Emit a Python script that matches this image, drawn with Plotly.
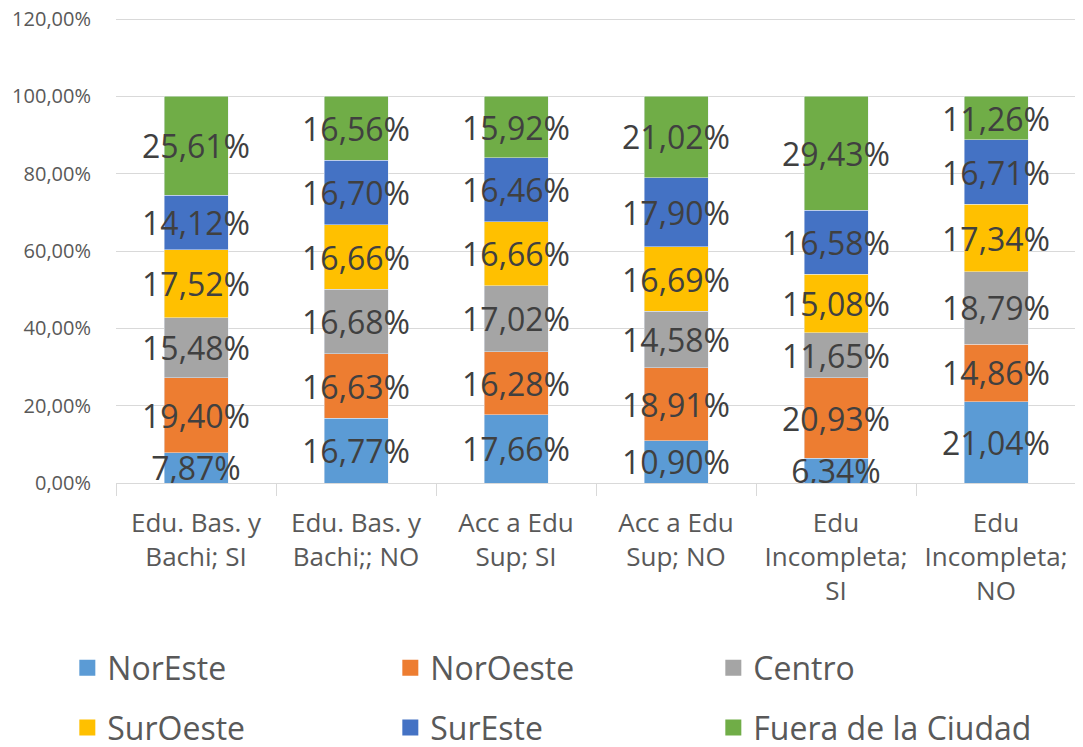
import plotly.graph_objects as go

categories = ["Edu. Bas. y<br>Bachi; SI", "Edu. Bas. y<br>Bachi;; NO", "Acc a Edu<br>Sup; SI",
              "Acc a Edu<br>Sup; NO", "Edu<br>Incompleta;<br>SI", "Edu<br>Incompleta;<br>NO"]
series_names = ["NorEste", "NorOeste", "Centro", "SurOeste", "SurEste", "Fuera de la Ciudad"]
noreste = [0.0787, 0.1677, 0.1766, 0.1090, 0.0634, 0.2104]
noroeste = [0.1940, 0.1663, 0.1628, 0.1891, 0.2093, 0.1486]
centro = [0.1548, 0.1668, 0.1702, 0.1458, 0.1165, 0.1879]
suroeste = [0.1752, 0.1666, 0.1666, 0.1669, 0.1508, 0.1734]
sureste = [0.1412, 0.1670, 0.1646, 0.1790, 0.1658, 0.1671]
fuera = [0.2561, 0.1656, 0.1592, 0.2102, 0.2943, 0.1126]
series_values = [noreste, noroeste, centro, suroeste, sureste, fuera]
colors = ["#5B9BD5", "#ED7D31", "#A5A5A5", "#FFC000", "#4472C4", "#70AD47"]

FONT = "Open Sans"
fig = go.Figure()
for i, (name, vals, col) in enumerate(zip(series_names, series_values, colors)):
    fig.add_trace(go.Bar(
        name=name, x=categories, y=vals, marker_color=col,
        texttemplate="%{y:.2%}", textposition="inside", insidetextanchor="middle",
        textangle=0, constraintext="none",
        textfont=dict(family=FONT, size=32, color="#404040"),
        showlegend=False, hoverinfo="skip",
    ))
# legend entries with larger square swatches
for i, (name, col) in enumerate(zip(series_names, colors)):
    fig.add_trace(go.Scatter(
        name=name, x=[None], y=[None], mode="markers",
        marker=dict(symbol="square", size=20, color=col),
        legend="legend" if i < 3 else "legend2", showlegend=True,
    ))

legend_common = dict(orientation="h", x=-0.0507, xanchor="left", yanchor="middle",
                     entrywidth=278, entrywidthmode="pixels",
                     font=dict(family=FONT, size=32, color="#595959"), traceorder="normal")
# page body adds an 8px offset, so the figure is 8px smaller than the window
fig.update_layout(
    width=1075, height=739,
    barmode="stack", bargap=0.6,
    separators=", ",
    plot_bgcolor="white", paper_bgcolor="white",
    margin=dict(l=108, r=7, t=9, b=264, autoexpand=False),
    font=dict(family=FONT, color="#595959"),
    showlegend=True,
    legend=dict(y=-0.397, **legend_common),
    legend2=dict(y=-0.525, **legend_common),
)
fig.update_yaxes(range=[0, 1.2052], tick0=0, dtick=0.2, tickformat=".2%", showgrid=True,
                 gridcolor="#D9D9D9", gridwidth=1, zeroline=False, showline=False,
                 ticks="", ticklabelstandoff=24, ticklabeloverflow="allow",
                 tickfont=dict(family=FONT, size=20, color="#595959"))
fig.update_xaxes(showline=True, linecolor="#D9D9D9", linewidth=1, ticks="outside",
                 tickson="boundaries", ticklen=12, tickcolor="#D9D9D9",
                 ticklabelstandoff=17,
                 tickfont=dict(family=FONT, size=26, color="#595959"), tickangle=0)

fig.write_html("out.html")
